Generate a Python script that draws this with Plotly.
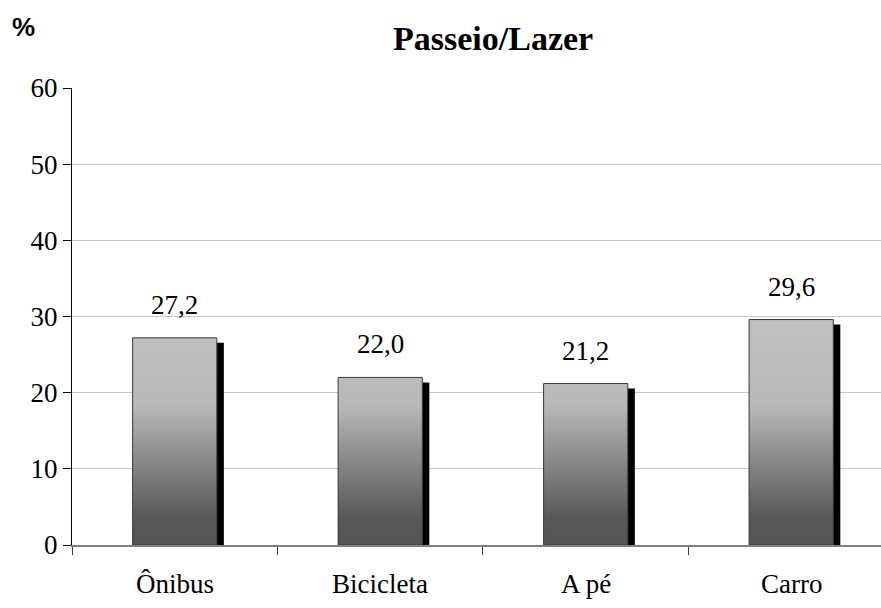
import plotly.graph_objects as go

# Chart data
categories = ["Ônibus", "Bicicleta", "A pé", "Carro"]
values = [27.2, 22.0, 21.2, 29.6]
y_ticks = [0, 10, 20, 30, 40, 50, 60]

SERIF = "Liberation Serif"
SANS = "Liberation Sans"

positions = list(range(len(categories)))
boundaries = [p - 0.5 for p in positions]
bar_w = 0.41          # bar width in category units
shadow_dx = 0.034     # shadow shift to the right
shadow_dy = 0.65      # shadow drop below the bar top


def rect_path(offset, drop):
    """Closed outlines of all bars, separated by gaps, in data units."""
    xs, ys = [], []
    for p, v in zip(positions, values):
        x0, x1 = p - bar_w / 2 + offset, p + bar_w / 2 + offset
        xs += [x0, x1, x1, x0, x0, None]
        ys += [0, 0, v - drop, v - drop, 0, None]
    return xs, ys


fig = go.Figure()

# Black drop shadow behind each bar
sx, sy = rect_path(shadow_dx, shadow_dy)
fig.add_trace(go.Scatter(
    x=sx, y=sy, mode="lines", fill="toself", fillcolor="black",
    line=dict(color="black", width=0),
    hoverinfo="skip", showlegend=False,
))

# Bars with a vertical grey gradient (dark at the base, light at the top)
bx, by = rect_path(0, 0)
fig.add_trace(go.Scatter(
    x=bx, y=by, mode="lines", fill="toself",
    fillgradient=dict(type="vertical",
                      colorscale=[[0.0, "#545454"], [0.12, "#585858"],
                                  [0.62, "#b8b8b8"], [1.0, "#c0c0c0"]]),
    line=dict(color="#3a3a3a", width=1),
    hoverinfo="skip", showlegend=False,
))

# Value labels above the bars (decimal comma)
for p, v in zip(positions, values):
    fig.add_annotation(
        x=p, y=v, xref="x", yref="y",
        text=f"{v:.1f}".replace(".", ","),
        showarrow=False, yanchor="bottom", yshift=16,
        font=dict(family=SERIF, size=27),
    )

# Category names under the axis
for p, name in zip(positions, categories):
    fig.add_annotation(
        x=p, y=0, xref="x", yref="paper",
        text=name, showarrow=False, yanchor="top", yshift=-22,
        font=dict(family=SERIF, size=27),
    )

# Title
fig.add_annotation(
    x=0.52, y=1 + (88 - 38) / 457, xref="paper", yref="paper", yanchor="middle",
    text="<b>Passeio/Lazer</b>", showarrow=False,
    font=dict(family=SERIF, size=34),
)

# Unit marker at the top left
fig.add_annotation(
    x=(10 - 72) / 809, y=1 + (88 - 27) / 457, xref="paper", yref="paper",
    xanchor="left", yanchor="middle",
    text="<b>%</b>", showarrow=False,
    font=dict(family=SANS, size=26),
)

fig.update_layout(
    width=881, height=608,
    margin=dict(l=72, r=0, t=88, b=63),
    paper_bgcolor="white", plot_bgcolor="white",
    font=dict(family=SERIF, size=27, color="#000000"),
    xaxis=dict(
        range=[-0.5, 3.437],
        tickmode="array", tickvals=boundaries, ticktext=[""] * len(boundaries),
        ticks="outside", ticklen=8, tickcolor="#404040", tickwidth=1,
        showgrid=False, zeroline=False,
        showline=True, linecolor="#808080", linewidth=2,
    ),
    yaxis=dict(
        range=[0, 60],
        tickmode="array", tickvals=y_ticks,
        ticks="outside", ticklen=8, tickcolor="black", tickwidth=1,
        showgrid=True, gridcolor="#c4c4c4", gridwidth=1,
        zeroline=False,
        showline=True, linecolor="black", linewidth=1,
        ticksuffix="  ",
        tickfont=dict(family=SERIF, size=27),
    ),
)

fig.write_html("out.html")
